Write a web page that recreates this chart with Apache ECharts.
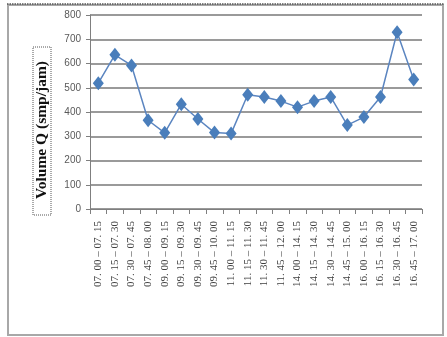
<!DOCTYPE html>
<html>
<head>
<meta charset="utf-8">
<script src="https://cdn.jsdelivr.net/npm/echarts@6/dist/echarts.min.js"></script>
<style>html,body{margin:0;padding:0;background:#fff;}#c{width:447px;height:337px;}</style>
</head>
<body>
<div id="c"></div>
<script>
const categories = [
  "07. 00 – 07. 15", "07. 15 – 07. 30", "07. 30 – 07. 45", "07. 45 – 08. 00",
  "09. 00 – 09. 15", "09. 15 – 09. 30", "09. 30 – 09. 45", "09. 45 – 10. 00",
  "11. 00 – 11. 15", "11. 15 – 11. 30", "11. 30 – 11. 45", "11. 45 – 12. 00",
  "14. 00 – 14. 15", "14. 15 – 14. 30", "14. 30 – 14. 45", "14. 45 – 15. 00",
  "16. 00 – 16. 15", "16. 15 – 16. 30", "16. 30 – 16. 45", "16. 45 – 17. 00"
];
const volumeQ = [519, 636, 592, 366, 314, 432, 371, 315, 311, 471, 462, 445, 420, 445, 462, 346, 379, 462, 729, 534];
const yAxisTitle = "Volume Q (smp/jam)";

const chart = echarts.init(document.getElementById('c'), null, {renderer: 'canvas'});
chart.setOption({
  animation: false,
  backgroundColor: '#ffffff',
  grid: {left: 90, right: 25, top: 15, bottom: 128, containLabel: false},
  xAxis: {
    type: 'category',
    data: categories,
    boundaryGap: true,
    axisLine: {lineStyle: {color: '#7f7f7f', width: 1}},
    axisTick: {show: true, length: 5, lineStyle: {color: '#7f7f7f'}},
    axisLabel: {rotate: 90, interval: 0, margin: 12, fontFamily: 'Liberation Serif', fontSize: 11, color: '#404040'},
    splitLine: {show: false}
  },
  yAxis: {
    type: 'value',
    min: 0, max: 800, interval: 100,
    axisLine: {show: true, lineStyle: {color: '#7f7f7f', width: 1}},
    axisTick: {show: true, length: 4, lineStyle: {color: '#7f7f7f'}},
    axisLabel: {fontFamily: 'Liberation Sans', fontSize: 10, color: '#595959', margin: 9},
    splitLine: {show: true, lineStyle: {color: '#9a9a9a', width: 1.8}}
  },
  series: [{
    type: 'line',
    data: volumeQ,
    symbol: 'diamond',
    symbolSize: [11, 14],
    lineStyle: {color: '#5b85c0', width: 1.5},
    itemStyle: {color: '#4a7ebb'}
  }],
  graphic: [
    {type: 'rect', shape: {x: 8, y: 5, width: 435, height: 330}, style: {fill: 'none', stroke: '#a8a8a8', lineWidth: 2}, z: 0},
    {type: 'line', shape: {x1: 7, y1: 4, x2: 444, y2: 4}, style: {stroke: '#555', lineWidth: 1.5, lineDash: [1.5, 1]}, z: 1},
    {type: 'rect', shape: {x: 33, y: 47, width: 18, height: 168}, style: {fill: 'none', stroke: '#555', lineWidth: 1, lineDash: [1, 1]}, z: 1},
    {type: 'text', x: 42, y: 130, rotation: Math.PI / 2,
     style: {text: yAxisTitle, font: 'bold 15.5px "Liberation Serif"', fill: '#111', align: 'center', verticalAlign: 'middle'}, z: 2}
  ]
});
</script>
</body>
</html>
